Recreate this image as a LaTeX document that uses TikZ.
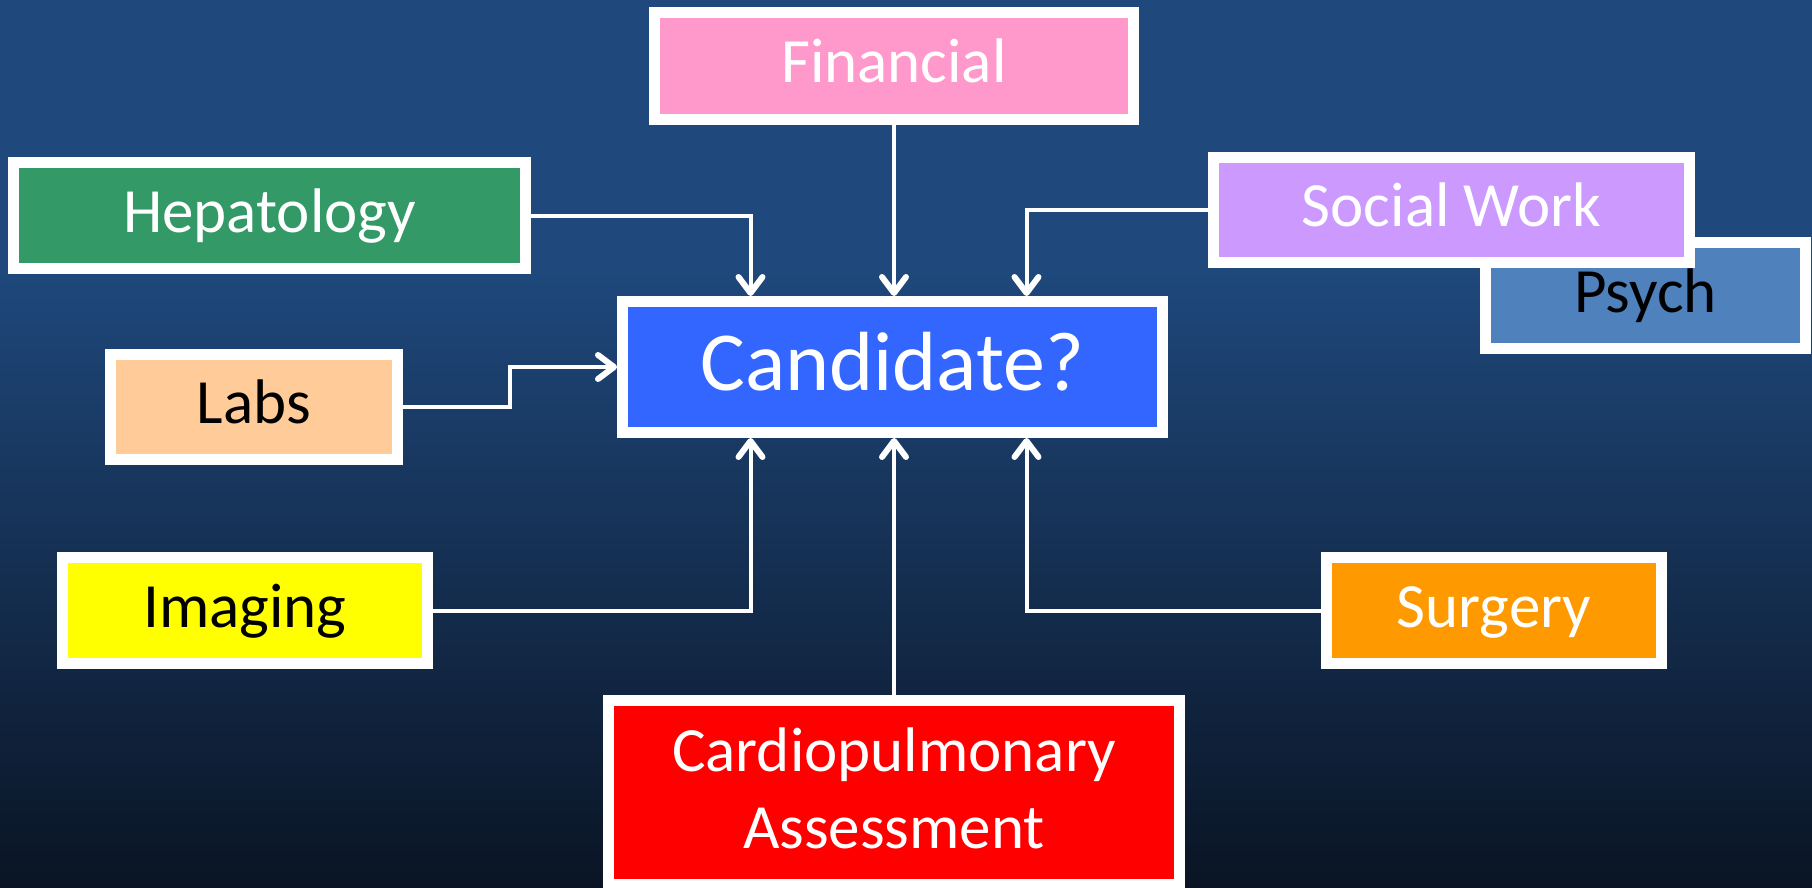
\documentclass[tikz,border=0pt]{standalone}
\usepackage{fontspec}
\setmainfont{Carlito}
\usepackage{tikz}
\usetikzlibrary{arrows.meta,positioning}
\definecolor{bgtop}{HTML}{1F497D}
\definecolor{bgbot}{HTML}{0A1424}
\definecolor{finpink}{HTML}{FF99CC}
\definecolor{hepgreen}{HTML}{339966}
\definecolor{socviolet}{HTML}{CC99FF}
\definecolor{psychblue}{HTML}{4F81BD}
\definecolor{candblue}{HTML}{3366FF}
\definecolor{labspeach}{HTML}{FFCC99}
\definecolor{imgyellow}{HTML}{FFFF00}
\definecolor{surgorange}{HTML}{FF9900}
\definecolor{cardred}{HTML}{FF0000}

\begin{document}
\begin{tikzpicture}[yscale=-1, x=1pt, y=1pt,
  >={Straight Barb[length=16pt,width=24pt,round,line width=6pt]},
  box/.style={draw=white, line width=11pt, inner sep=0pt, align=center,
    font=\fontsize{63}{77}\selectfont},
  oneline/.style={box, text height=47pt, text depth=14pt},
  link/.style={draw=white, line width=4pt}]
% backdrop
\useasboundingbox (0,0) rectangle (1812,888);
\fill[bgtop] (0,0) rectangle (1812,260);
\shade[top color=bgtop, bottom color=bgbot] (0,259) rectangle (1812,888);

% the boxes
\node[oneline, fill=finpink, text=white, minimum width=479, minimum height=107] (fin) at (894,66) {Financial};
\node[oneline, fill=hepgreen, text=white, minimum width=512, minimum height=106] (hep) at (269.5,215.5) {Hepatology};
\node[oneline, fill=psychblue, text=black, minimum width=320, minimum height=106] (psych) at (1645.5,295.5) {Psych};
\node[oneline, fill=socviolet, text=white, minimum width=476, minimum height=105] (soc) at (1451.5,210) {Social Work};
\node[box, fill=candblue, text=white, minimum width=540, minimum height=131,
  font=\fontsize{84}{100}\selectfont, text height=63pt, text depth=17pt] (cand) at (892.5,367) {Candidate?};
\node[oneline, fill=labspeach, text=black, minimum width=287, minimum height=105] (labs) at (254,407) {Labs};
\node[oneline, fill=imgyellow, text=black, minimum width=365, minimum height=106] (img) at (245,610.5) {Imaging};
\node[oneline, fill=surgorange, text=white, minimum width=335, minimum height=106] (surg) at (1494,610.5) {Surgery};
\node[box, fill=cardred, text=white, minimum width=571, minimum height=184, text depth=8pt] (cardio) at (894,792.5) {Cardiopulmonary\\Assessment};

% everything feeds the decision
\draw[link,->] (hep.east) -| ([xshift=-142pt]cand.north);
\draw[link,->] (fin.south) -- (fin.south |- cand.north);
\draw[link,->] (soc.west) -| ([xshift=134pt]cand.north);
\draw[link,->] (labs.east) -- ++(107,0) |- (cand.west);
\draw[link,->] (img.east) -| ([xshift=-142pt]cand.south);
\draw[link,->] (cardio.north) -- (cardio.north |- cand.south);
\draw[link,->] (surg.west) -| ([xshift=134pt]cand.south);
\end{tikzpicture}
\end{document}
